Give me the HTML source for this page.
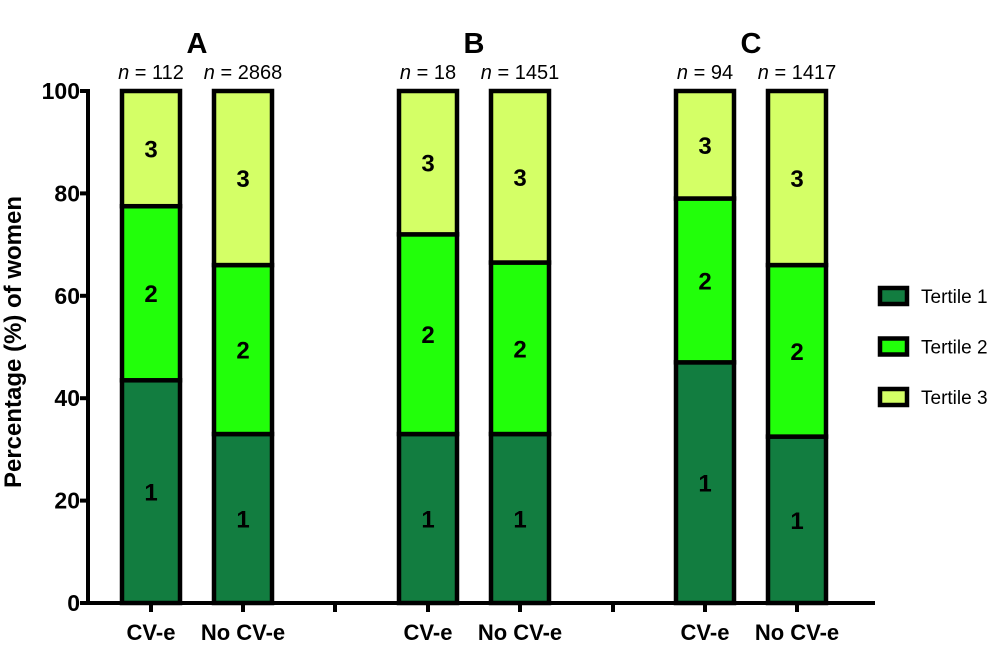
<!DOCTYPE html>
<html><head><meta charset="utf-8">
<style>
html,body{margin:0;padding:0;background:#fff;}
svg{display:block;font-family:"Liberation Sans",Arial,sans-serif;}
</style></head>
<body>
<svg id="chart" width="992" height="651" viewBox="0 0 992 651"></svg>
<script>
const panels = ["A","B","C"];
const categories = ["CV-e","No CV-e","CV-e","No CV-e","CV-e","No CV-e"];
const nLabels = ["112","2868","18","1451","94","1417"];
const tertile1 = [43.5, 33, 33, 33, 47, 32.5];
const tertile2 = [34, 33, 39, 33.5, 32, 33.5];
const tertile3 = [22.5, 34, 28, 33.5, 21, 34];
const yTicks = [0,20,40,60,80,100];
const seriesNames = ["Tertile 1","Tertile 2","Tertile 3"];

const colors = ["#127d40","#22ff0a","#d4ff66"];
const NS = "http://www.w3.org/2000/svg";
const svg = document.getElementById("chart");
const y0 = 603, yTop = 91, xAxis = 88;
function yScale(v){ return y0 - (y0 - yTop) * v / 100; }
const centers = [151,243,428,520,705,797];
function xScale(i){ return centers[i]; }
const barW = 58;
function mk(tag, attrs, text){
  const e = document.createElementNS(NS, tag);
  for (const k in attrs) e.setAttribute(k, attrs[k]);
  if (text !== undefined) e.textContent = text;
  svg.appendChild(e);
  return e;
}
let ax = mk("line",{x1:xAxis,y1:yTop-2,x2:xAxis,y2:y0+2,stroke:"#000","stroke-width":4});


let xa = mk("line",{x1:xAxis-2,y1:y0,x2:875,y2:y0,stroke:"#000","stroke-width":4});


yTicks.forEach(t=>{
  const y = yScale(t);
  const tk = mk("line",{x1:xAxis-8,y1:y,x2:xAxis,y2:y,stroke:"#000","stroke-width":4});
  
  
  const lb = mk("text",{x:xAxis-8,y:y+8,"text-anchor":"end","font-size":"23","font-weight":"bold"}, t);
  
  
});
[335,613].forEach(x=>{
  const tk = mk("line",{x1:x,y1:y0,x2:x,y2:y0+9,stroke:"#000","stroke-width":4});
  
  
});
const yt = mk("text",{x:0,y:0,transform:"translate(21,342) rotate(-90)","text-anchor":"middle","font-size":"24","font-weight":"bold"},"Percentage (%) of women");


categories.forEach((c,i)=>{
  const cx = xScale(i);
  const vals = [tertile1[i],tertile2[i],tertile3[i]];
  let acc = 0;
  vals.forEach((v,s)=>{
    const yb = yScale(acc), yt2 = yScale(acc+v);
    const r = mk("rect",{x:cx-barW/2,y:yt2,width:barW,height:yb-yt2,fill:colors[s],stroke:"#000","stroke-width":4.5});
    
    
    const lab = mk("text",{x:cx,y:(yb+yt2)/2+9,"text-anchor":"middle","font-size":"24","font-weight":"bold"}, s+1);
    
    
    acc += v;
  });
  const tk = mk("line",{x1:cx,y1:y0,x2:cx,y2:y0+9,stroke:"#000","stroke-width":4});
  
  
  const xl = mk("text",{x:cx,y:640,"text-anchor":"middle","font-size":"22","font-weight":"bold"}, c);
  
  
  const nt = mk("text",{x:cx,y:79,"text-anchor":"middle","font-size":"20"});
  
  
  const it = document.createElementNS(NS,"tspan"); it.setAttribute("font-style","italic"); it.textContent="n"; nt.appendChild(it);
  nt.appendChild(document.createTextNode(" = "+nLabels[i]));
});
panels.forEach((p,k)=>{
  const x = (xScale(2*k)+xScale(2*k+1))/2;
  const t = mk("text",{x:x,y:53,"text-anchor":"middle","font-size":"29","font-weight":"bold"},p);
  
  
});
seriesNames.forEach((n,s)=>{
  const y = 287 + s*50.5;
  const r = mk("rect",{x:880,y:y+1,width:27,height:16,fill:colors[s],stroke:"#000","stroke-width":4.5});
  
  
  const t = mk("text",{x:921,y:y+16,"font-size":"19"},n);
  
  
});
</script>
</body></html>
